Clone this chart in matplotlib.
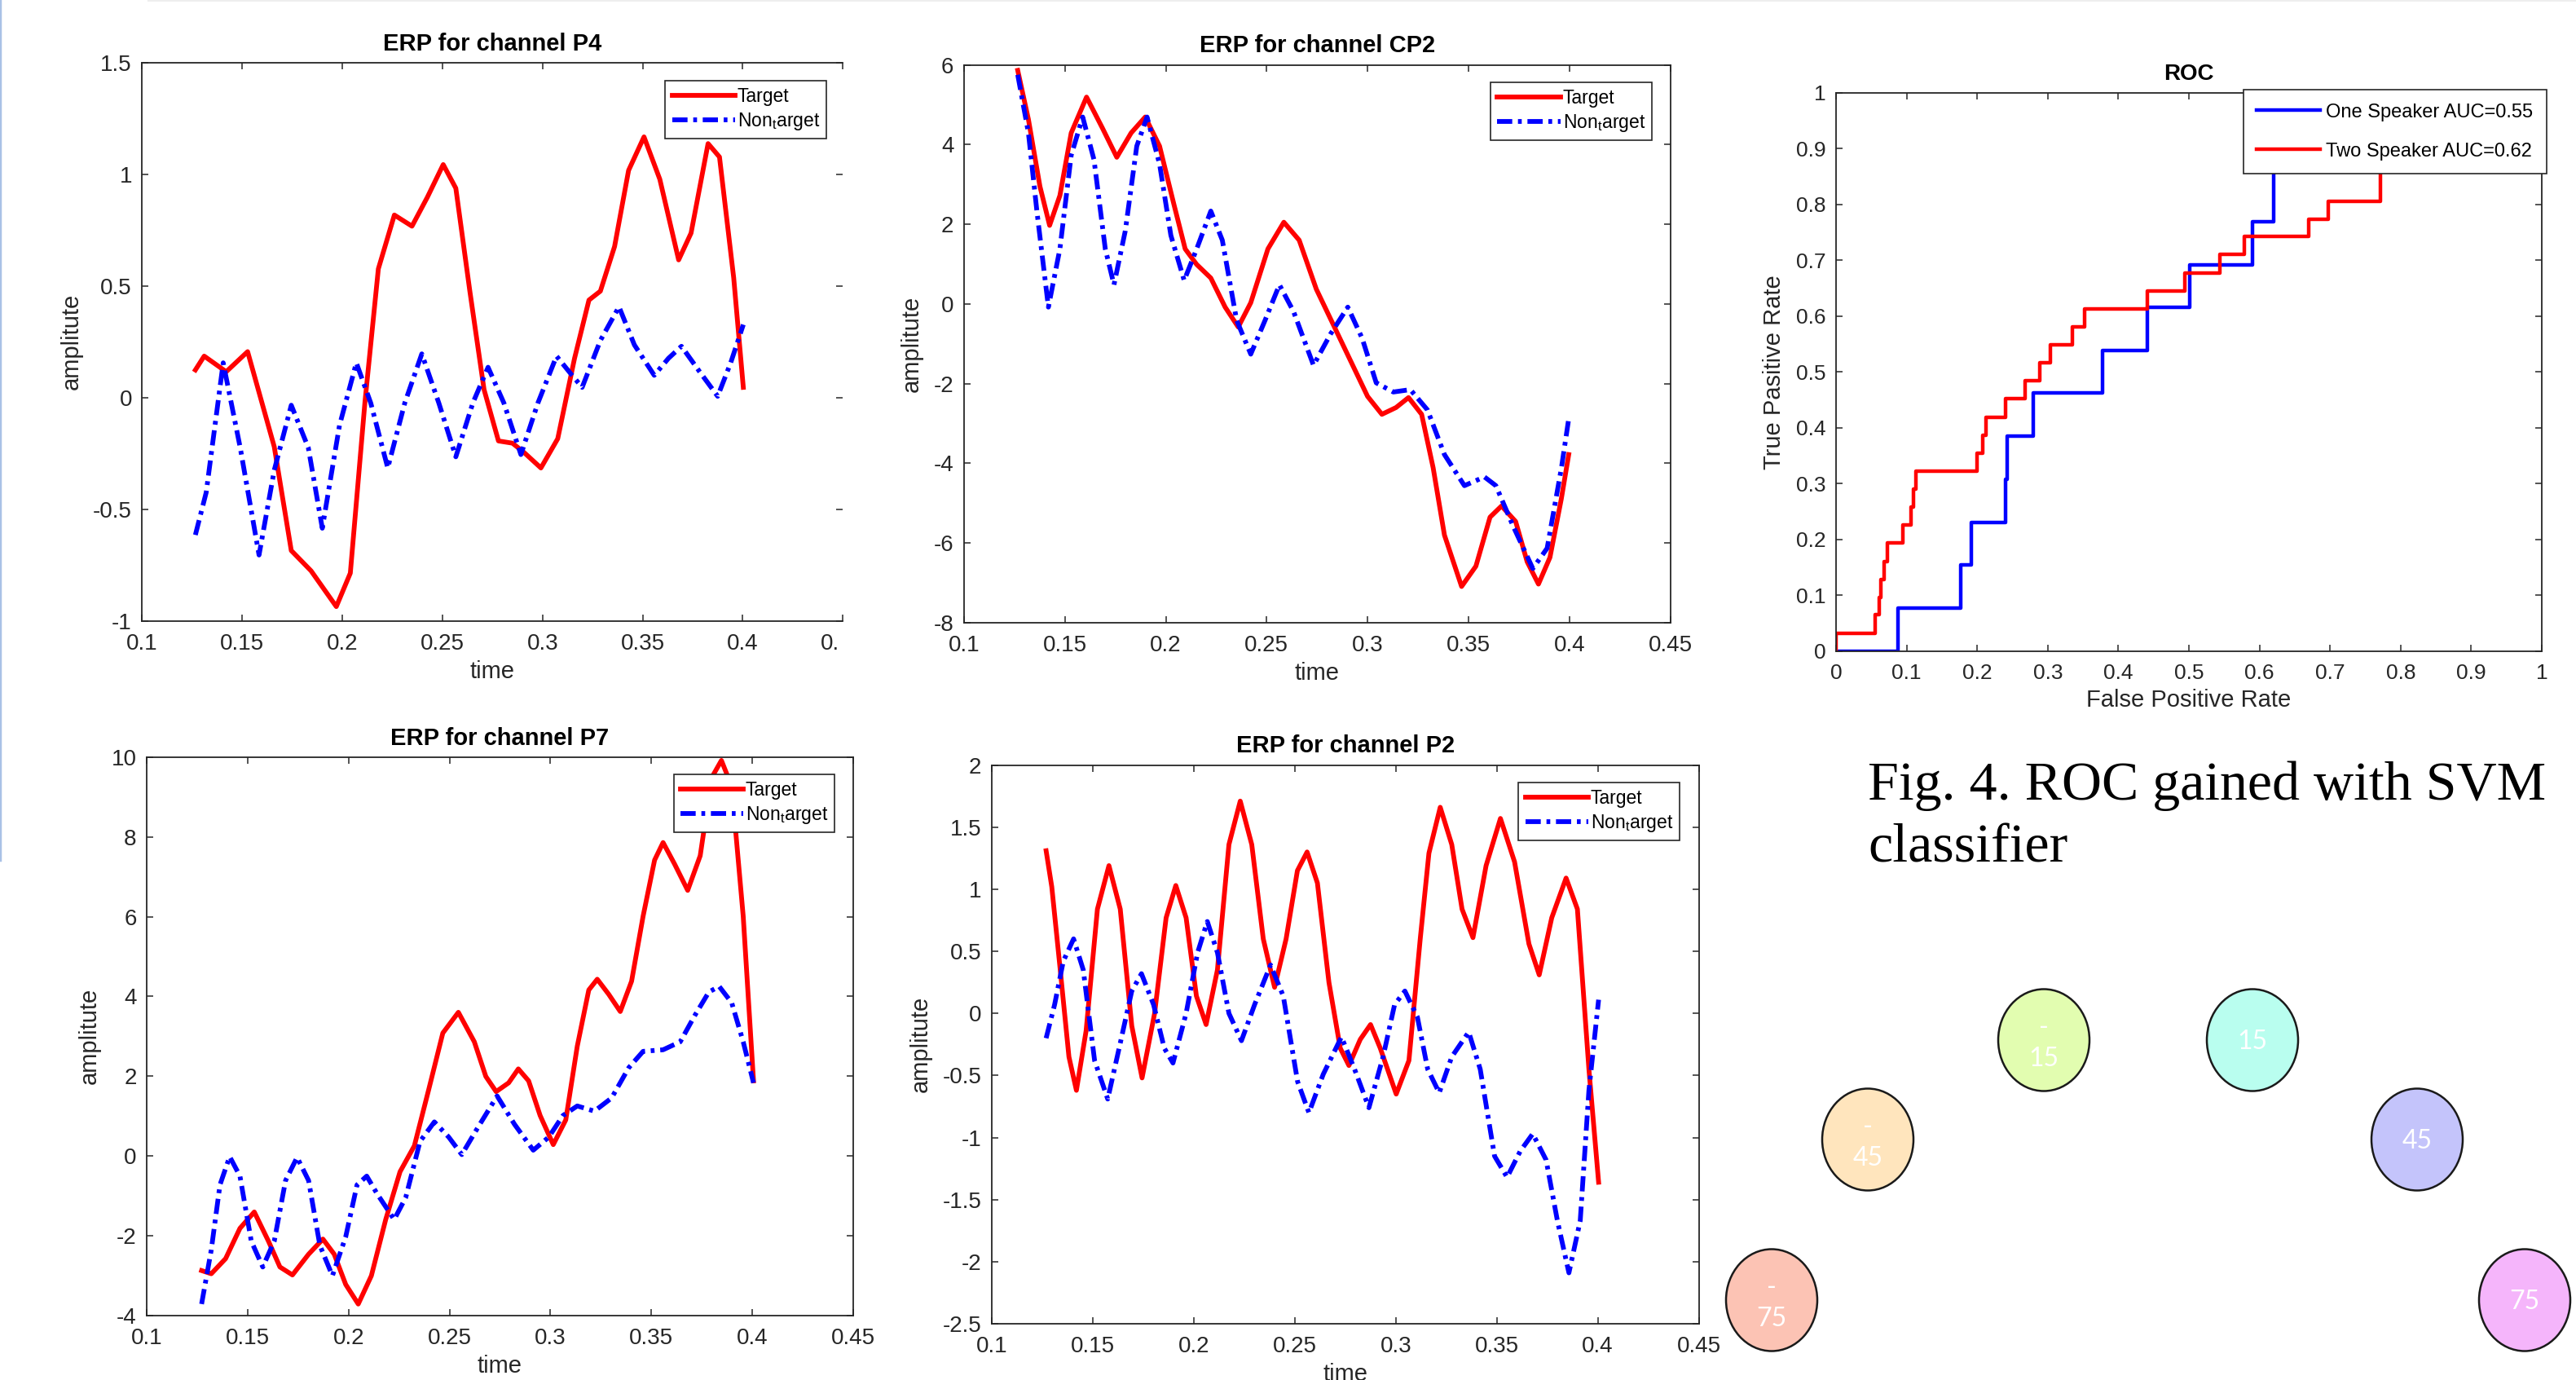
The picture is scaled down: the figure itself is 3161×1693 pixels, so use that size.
import matplotlib
matplotlib.use("Agg")
import matplotlib.pyplot as plt
from matplotlib.patches import Ellipse, Rectangle
from matplotlib.ticker import FuncFormatter

plt.rcParams['font.family'] = ['Liberation Sans', 'DejaVu Sans']
plt.rcParams['axes.unicode_minus'] = False
plt.rcParams['mathtext.fontset'] = 'custom'
plt.rcParams['mathtext.rm'] = 'Liberation Sans'

W, H = 3161, 1693
GRAY = '#262626'

# ---- ERP data (time in s, amplitude) ----
P4_TARGET_T = [0.1266, 0.131, 0.142, 0.1527, 0.166, 0.1745, 0.1844, 0.197, 0.204, 0.2113, 0.218, 0.226,
               0.2348, 0.2425, 0.2504, 0.2567, 0.2637, 0.2708, 0.278, 0.285, 0.2907, 0.2992, 0.3076, 0.316,
               0.3232, 0.3289, 0.336, 0.343, 0.3507, 0.3586, 0.368, 0.3742, 0.3827, 0.3884, 0.3955, 0.4003]
P4_TARGET_V = [0.124, 0.186, 0.116, 0.206, -0.22, -0.685, -0.776, -0.936, -0.786, -0.02, 0.577, 0.818,
               0.768, 0.898, 1.044, 0.938, 0.477, 0.036, -0.194, -0.204, -0.245, -0.315, -0.184, 0.176,
               0.437, 0.477, 0.677, 1.018, 1.168, 0.978, 0.617, 0.737, 1.138, 1.078, 0.537, 0.046]
P4_NON_T = [0.1266, 0.132, 0.1405, 0.149, 0.1584, 0.166, 0.1745, 0.183, 0.19, 0.1986, 0.207, 0.2142,
            0.2227, 0.2312, 0.2397, 0.2482, 0.2567, 0.2652, 0.2728, 0.2807, 0.2892, 0.2977, 0.307, 0.3133,
            0.3198, 0.3289, 0.3382, 0.3459, 0.3558, 0.3629, 0.3694, 0.3785, 0.3875, 0.394, 0.4003]
P4_NON_V = [-0.615, -0.425, 0.156, -0.224, -0.705, -0.325, -0.034, -0.224, -0.585, -0.124, 0.156, -0.024,
            -0.315, -0.024, 0.196, -0.024, -0.265, -0.024, 0.136, -0.024, -0.255, -0.024, 0.186, 0.116,
            0.046, 0.256, 0.407, 0.236, 0.1, 0.176, 0.23, 0.116, 0.006, 0.156, 0.327]

CP2_TARGET_T = [0.1266, 0.1319, 0.1376, 0.1424, 0.1475, 0.1531, 0.1607, 0.1686, 0.1757, 0.1828, 0.1898,
                0.1969, 0.204, 0.2096, 0.2153, 0.2223, 0.2294, 0.2359, 0.2421, 0.2506, 0.2585, 0.2661,
                0.2746, 0.2831, 0.2915, 0.3, 0.3071, 0.3141, 0.3203, 0.3268, 0.3325, 0.3381, 0.3466,
                0.3537, 0.3607, 0.3664, 0.3734, 0.3791, 0.3847, 0.3904, 0.396, 0.3997]
CP2_TARGET_V = [5.86, 4.63, 2.95, 1.97, 2.72, 4.29, 5.19, 4.41, 3.68, 4.29, 4.69,
                3.96, 2.5, 1.38, 0.99, 0.65, -0.08, -0.58, 0.03, 1.38, 2.05, 1.6,
                0.37, -0.53, -1.42, -2.32, -2.77, -2.6, -2.35, -2.77, -4.11, -5.8, -7.09,
                -6.58, -5.35, -5.07, -5.46, -6.47, -7.03, -6.36, -4.9, -3.78]
CP2_NON_T = [0.1266, 0.1319, 0.1362, 0.1418, 0.1475, 0.1531, 0.1588, 0.1644, 0.17, 0.1743, 0.1799,
             0.1856, 0.1907, 0.1969, 0.2025, 0.2091, 0.2153, 0.2223, 0.228, 0.2351, 0.2421, 0.2492,
             0.2563, 0.2633, 0.2732, 0.2817, 0.2902, 0.2973, 0.3043, 0.3128, 0.3212, 0.3297, 0.3381,
             0.348, 0.3579, 0.3636, 0.3721, 0.3819, 0.389, 0.3961, 0.3997]
CP2_NON_V = [5.75, 4.29, 2.28, -0.08, 1.38, 3.73, 4.69, 3.62, 1.38, 0.48, 1.83,
             3.96, 4.69, 3.51, 1.72, 0.59, 1.38, 2.33, 1.6, -0.41, -1.26, -0.41,
             0.48, -0.19, -1.54, -0.75, -0.08, -0.86, -1.98, -2.21, -2.15, -2.66, -3.78,
             -4.56, -4.34, -4.56, -5.57, -6.64, -6.13, -4.11, -2.88]

P7_TARGET_T = [0.1272, 0.132, 0.1391, 0.1462, 0.1533, 0.1603, 0.166, 0.1722, 0.1802, 0.1873, 0.1929,
               0.1986, 0.2048, 0.2113, 0.2184, 0.2255, 0.2326, 0.2397, 0.2467, 0.2544, 0.2623, 0.268,
               0.2731, 0.2793, 0.2841, 0.2892, 0.2949, 0.3014, 0.3076, 0.3133, 0.319, 0.3232, 0.3289,
               0.3346, 0.3402, 0.3459, 0.3516, 0.3558, 0.3615, 0.368, 0.3742, 0.3799, 0.3847, 0.3898,
               0.3955, 0.4006]
P7_TARGET_V = [-2.88, -2.96, -2.58, -1.82, -1.41, -2.14, -2.79, -2.99, -2.47, -2.09, -2.47,
               -3.23, -3.72, -3.01, -1.6, -0.4, 0.25, 1.66, 3.08, 3.6, 2.86, 1.99,
               1.61, 1.83, 2.18, 1.88, 1.01, 0.28, 0.9, 2.75, 4.16, 4.43, 4.05,
               3.62, 4.38, 6.01, 7.42, 7.86, 7.32, 6.66, 7.53, 9.49, 9.92, 9.27,
               6.01, 1.88]
P7_NON_T = [0.1272, 0.132, 0.1363, 0.1411, 0.1462, 0.1518, 0.1575, 0.1632, 0.1688, 0.1745, 0.1802,
            0.1858, 0.192, 0.1986, 0.2042, 0.209, 0.2141, 0.2226, 0.2283, 0.2354, 0.2425, 0.2496,
            0.2561, 0.2637, 0.2736, 0.2822, 0.2915, 0.2992, 0.3062, 0.3133, 0.3218, 0.3303, 0.3388,
            0.3459, 0.3558, 0.3643, 0.3714, 0.3785, 0.3836, 0.3898, 0.3955, 0.4006]
P7_NON_V = [-3.72, -2.36, -0.73, -0.02, -0.51, -2.14, -2.79, -2.14, -0.62, -0.04, -0.62,
            -2.25, -3.01, -2.03, -0.73, -0.51, -0.95, -1.6, -1.05, 0.36, 0.85, 0.47,
            0.03, 0.68, 1.5, 0.79, 0.14, 0.47, 1.01, 1.25, 1.12, 1.45, 2.21,
            2.62, 2.66, 2.86, 3.51, 4.11, 4.25, 3.84, 2.86, 1.83]

P2_TARGET_T = [0.1269, 0.1297, 0.1339, 0.1382, 0.1419, 0.1467, 0.1523, 0.158, 0.1636, 0.1693, 0.1744,
               0.1806, 0.1863, 0.1911, 0.1962, 0.2013, 0.2061, 0.2117, 0.2174, 0.223, 0.2287, 0.2344,
               0.24, 0.2457, 0.2513, 0.2561, 0.2612, 0.2669, 0.2725, 0.2768, 0.2824, 0.2875, 0.2923,
               0.3002, 0.3065, 0.3121, 0.3164, 0.322, 0.3277, 0.3328, 0.3382, 0.3447, 0.3518, 0.3588,
               0.3659, 0.371, 0.3772, 0.3843, 0.3899, 0.3956, 0.4004]
P2_TARGET_V = [1.31, 1.02, 0.35, -0.35, -0.62, -0.14, 0.84, 1.19, 0.84, -0.1, -0.52,
               0.0, 0.77, 1.03, 0.77, 0.14, -0.09, 0.35, 1.36, 1.71, 1.36, 0.6,
               0.21, 0.6, 1.15, 1.3, 1.05, 0.25, -0.28, -0.42, -0.21, -0.09, -0.28,
               -0.65, -0.38, 0.6, 1.29, 1.66, 1.36, 0.84, 0.61, 1.19, 1.57, 1.22,
               0.56, 0.31, 0.77, 1.09, 0.84, -0.45, -1.36]
P2_NON_T = [0.1269, 0.1311, 0.1354, 0.1405, 0.1453, 0.1509, 0.1574, 0.1636, 0.1693, 0.1741, 0.1801,
            0.1854, 0.1897, 0.1962, 0.2019, 0.2067, 0.2117, 0.2174, 0.2236, 0.2301, 0.238, 0.2443,
            0.2514, 0.257, 0.2641, 0.2731, 0.2796, 0.2867, 0.2937, 0.2994, 0.3045, 0.3107, 0.3158,
            0.3215, 0.3277, 0.3361, 0.3418, 0.3489, 0.3551, 0.3616, 0.3678, 0.3744, 0.38, 0.3857,
            0.3913, 0.3956, 0.4004]
P2_NON_V = [-0.2, 0.07, 0.42, 0.6, 0.35, -0.38, -0.69, -0.24, 0.18, 0.32, 0.07,
            -0.28, -0.4, 0.0, 0.49, 0.74, 0.49, 0.0, -0.22, 0.07, 0.39, 0.14,
            -0.55, -0.8, -0.49, -0.19, -0.45, -0.76, -0.35, 0.07, 0.18, -0.03, -0.45,
            -0.64, -0.35, -0.15, -0.45, -1.15, -1.32, -1.11, -0.97, -1.18, -1.67, -2.09,
            -1.67, -0.62, 0.11]

# ---- ROC data ----
ONE_FPR = [0, 0.088, 0.088, 0.177, 0.177, 0.192, 0.192, 0.240, 0.240, 0.243, 0.243, 0.279, 0.279,
           0.378, 0.378, 0.441, 0.441, 0.501, 0.501, 0.590, 0.590, 0.620, 0.620, 0.68, 0.68, 1.0]
ONE_TPR = [0, 0, 0.077, 0.077, 0.154, 0.154, 0.231, 0.231, 0.308, 0.308, 0.385, 0.385, 0.462,
           0.462, 0.538, 0.538, 0.615, 0.615, 0.692, 0.692, 0.769, 0.769, 0.923, 0.923, 1.0, 1.0]
TWO_FPR = [0, 0, 0.055, 0.055, 0.061, 0.061, 0.064, 0.064, 0.068, 0.068, 0.073, 0.073, 0.095, 0.095,
           0.106, 0.106, 0.110, 0.110, 0.113, 0.113, 0.200, 0.200, 0.208, 0.208, 0.213, 0.213, 0.240,
           0.240, 0.268, 0.268, 0.289, 0.289, 0.304, 0.304, 0.335, 0.335, 0.352, 0.352, 0.441, 0.441,
           0.494, 0.494, 0.544, 0.544, 0.579, 0.579, 0.670, 0.670, 0.698, 0.698, 0.771, 0.771, 0.85,
           0.85, 1.0]
TWO_TPR = [0, 0.032, 0.032, 0.065, 0.065, 0.097, 0.097, 0.129, 0.129, 0.161, 0.161, 0.194, 0.194,
           0.226, 0.226, 0.258, 0.258, 0.290, 0.290, 0.323, 0.323, 0.355, 0.355, 0.387, 0.387, 0.419,
           0.419, 0.452, 0.452, 0.484, 0.484, 0.516, 0.516, 0.548, 0.548, 0.581, 0.581, 0.613, 0.613,
           0.645, 0.645, 0.677, 0.677, 0.710, 0.710, 0.742, 0.742, 0.774, 0.774, 0.806, 0.806, 0.871,
           0.871, 1.0, 1.0]
ROC_LABELS = ["One Speaker AUC=0.55", "Two Speaker AUC=0.62"]

CAPTION = ["Fig. 4. ROC gained with SVM", "classifier"]
SPEAKER_ANGLES = [-75, -45, -15, 15, 45, 75]
SPEAKER_COLORS = ['#fcc3b4', '#ffe5bd', '#e2fdb0', '#b9feef', '#c4c4fb', '#f5b5fb']
SPEAKER_XY = [(2174, 1595), (2292, 1398), (2508, 1276), (2764, 1276), (2966, 1398), (3098, 1595)]

fig = plt.figure(figsize=(W / 100, H / 100), dpi=100)
fig.patch.set_facecolor('white')


def px_axes(l, r, t, b):
    return fig.add_axes([l / W, 1 - b / H, (r - l) / W, (b - t) / H])


def style(ax, tick_size):
    for s in ax.spines.values():
        s.set_color(GRAY)
        s.set_linewidth(1.3)
    ax.tick_params(direction='in', top=True, right=True, length=6, width=1.1,
                   colors=GRAY, labelsize=tick_size)
    ax.tick_params(axis='x', pad=11)
    ax.tick_params(axis='y', pad=9)
    fmt = FuncFormatter(lambda v, p: '%g' % round(v, 6))
    ax.xaxis.set_major_formatter(fmt)
    ax.yaxis.set_major_formatter(fmt)


def erp(box, title, tt, tv, nt, nv, ylim, ystep, legend_xy):
    ax = px_axes(*box)
    ax.plot(tt, tv, color='red', lw=4.2, label='Target', solid_joinstyle='round', zorder=2)
    ax.plot(nt, nv, color='blue', lw=4.2, dashes=(3.2, 1.2, 0.8, 1.2), label=r'Non$_{\mathrm{t}}$arget',
            zorder=3)
    ax.set_xlim(0.1, 0.45)
    ax.set_ylim(*ylim)
    ax.set_xticks([0.1 + 0.05 * i for i in range(8)])
    n = int(round((ylim[1] - ylim[0]) / ystep))
    ax.set_yticks([ylim[0] + ystep * i for i in range(n + 1)])
    style(ax, 20)
    ax.set_title(title, fontsize=21, fontweight='bold', pad=11)
    ax.set_xlabel('time', fontsize=21, color=GRAY, labelpad=5)
    ax.set_ylabel('amplitute', fontsize=21, color=GRAY, labelpad=9)
    leg = ax.legend(loc='upper right', bbox_to_anchor=legend_xy, borderaxespad=0, fontsize=16.5,
                    fancybox=False, edgecolor=GRAY, framealpha=1, handlelength=3.4,
                    handletextpad=0.1, labelspacing=0.25, borderpad=0.35)
    leg.get_frame().set_linewidth(1.2)
    return ax


ax4 = erp((174.4, 1034.2, 77, 761.7), 'ERP for channel P4', P4_TARGET_T, P4_TARGET_V,
          P4_NON_T, P4_NON_V, (-1, 1.5), 0.5, (0.9765, 0.968))
ax4.spines['right'].set_visible(False)
erp((1183, 2049.5, 79.5, 764), 'ERP for channel CP2', CP2_TARGET_T, CP2_TARGET_V,
    CP2_NON_T, CP2_NON_V, (-8, 6), 2, (0.974, 0.9686))
erp((180, 1047, 929, 1613.5), 'ERP for channel P7', P7_TARGET_T, P7_TARGET_V,
    P7_NON_T, P7_NON_V, (-4, 10), 2, (0.9735, 0.969))
erp((1217, 2084.6, 938.6, 1624), 'ERP for channel P2', P2_TARGET_T, P2_TARGET_V,
    P2_NON_T, P2_NON_V, (-2.5, 2), 0.5, (0.9728, 0.9688))

# ROC
axr = px_axes(2253, 3119, 113.6, 799)
axr.plot(ONE_FPR, ONE_TPR, color='blue', lw=3.2, label=ROC_LABELS[0])
axr.plot(TWO_FPR, TWO_TPR, color='red', lw=3.2, label=ROC_LABELS[1])
axr.set_xlim(0, 1)
axr.set_ylim(0, 1)
axr.set_xticks([i / 10 for i in range(11)])
axr.set_yticks([i / 10 for i in range(11)])
style(axr, 19)
axr.set_title('ROC', fontsize=20, fontweight='bold', pad=11)
axr.set_xlabel('False Positive Rate', fontsize=21, color=GRAY, labelpad=5)
axr.set_ylabel('True Pasitive Rate', fontsize=21, color=GRAY, labelpad=9)
leg = axr.legend(loc='upper right', bbox_to_anchor=(1.007, 1.005), borderaxespad=0, fontsize=17,
                 fancybox=False, edgecolor=GRAY, framealpha=1, handlelength=3.3,
                 handletextpad=0.3, labelspacing=1.1, borderpad=0.7)
leg.get_frame().set_linewidth(1.2)

# overlay in pixel coordinates
ov = fig.add_axes([0, 0, 1, 1], zorder=10)
ov.set_xlim(0, W)
ov.set_ylim(H, 0)
ov.axis('off')
ov.patch.set_alpha(0)

# cropped screenshot edges
ov.add_patch(Rectangle((1029, 766), 52, 50, facecolor='white', edgecolor='none'))
ov.plot([0, 0], [0, 1055], color='#a9c1e6', lw=2.5)
ov.plot([182, W], [0.5, 0.5], color='#eeeeee', lw=1.5)

ov.text(2292, 981, CAPTION[0], family='Liberation Serif', fontsize=49, va='baseline')
ov.text(2292, 1057, CAPTION[1], family='Liberation Serif', fontsize=49, va='baseline')

for ang, col, (x, y) in zip(SPEAKER_ANGLES, SPEAKER_COLORS, SPEAKER_XY):
    ov.add_patch(Ellipse((x, y), 112, 125, facecolor=col, edgecolor='#1a1a1a', lw=1.8))
    if ang < 0:
        ov.text(x, y + 4, '-\n%d' % abs(ang), color='white', family=['Lato', 'DejaVu Sans'],
                fontsize=23, ha='center', va='center', linespacing=1.3)
    else:
        ov.text(x, y + 2, '%d' % ang, color='white', family=['Lato', 'DejaVu Sans'],
                fontsize=23, ha='center', va='center')

fig.savefig('out.png', dpi=100)
